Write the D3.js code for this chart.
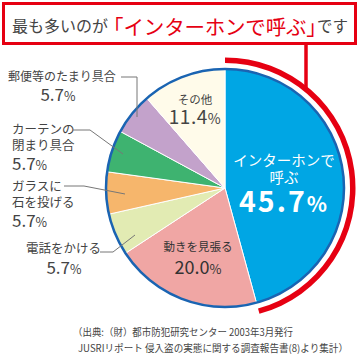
<!DOCTYPE html>
<html>
<head>
<meta charset="utf-8">
<script src="https://cdn.jsdelivr.net/npm/d3@7"></script>
<style>
  body { margin: 0; background: #fff; }
  svg { display: block; font-family: "Noto Sans CJK JP", "Noto Sans", sans-serif; }
  .half { font-feature-settings: "halt"; }
</style>
</head>
<body>
<div id="chart"></div>
<script>
// Data
const categories = ["インターホンで呼ぶ", "動きを見張る", "電話をかける", "ガラスに石を投げる", "カーテンの閉まり具合", "郵便等のたまり具合", "その他"];
const values = [45.7, 20.0, 5.7, 5.7, 5.7, 5.7, 11.4];
const colors = ["#00a6e4", "#f0a6a4", "#e2ebb3", "#f6b66c", "#3eb370", "#c3a2cb", "#fffbea"];

const width = 360, height = 354;
const cx = 225, cy = 188, r = 119;

const svg = d3.select("#chart")
    .append("svg")
    .attr("width", width)
    .attr("height", height);

// Title box
svg.append("rect")
    .attr("x", 3.5).attr("y", 3.5)
    .attr("width", 352).attr("height", 40)
    .attr("fill", "#fff")
    .attr("stroke", "#e60012")
    .attr("stroke-width", 3);

svg.append("text").attr("x", 12).attr("y", 32.3).attr("fill", "#444")
    .attr("font-size", 16).text("最も多いのが");

// red part with half-width brackets, then "です"
const red = svg.append("text").attr("x", 113.3).attr("y", 34.5).attr("fill", "#e60012")
    .attr("font-size", 20.5);
red.append("tspan").attr("class", "half").text("「");
red.append("tspan").attr("letter-spacing", -0.2).text(categories[0]);
red.append("tspan").attr("class", "half").text("」");
red.append("tspan").attr("dy", -2.2).attr("dx", 0.5).attr("fill", "#444").attr("font-size", 15.5).text("です");

const g = svg.append("g")
    .attr("transform", "translate(" + cx + "," + cy + ")");

const pie = d3.pie().sort(null).value(d => d);
const arcs = pie(values);
const arc = d3.arc().innerRadius(0).outerRadius(r);

// red highlight arc around the top slice
const redArc = d3.arc()
    .innerRadius(r + 6)
    .outerRadius(r + 11.5)
    .startAngle(0)
    .endAngle(arcs[0].endAngle);

g.append("path")
    .attr("d", redArc())
    .attr("fill", "#e60012");

// connector from title box down to the arc
const lineX = 306;
const arcY = -Math.sqrt((r + 9) * (r + 9) - (lineX - cx) * (lineX - cx));
svg.append("line")
    .attr("x1", lineX).attr("x2", lineX)
    .attr("y1", 44).attr("y2", cy + arcY)
    .attr("stroke", "#e60012")
    .attr("stroke-width", 3.5);

// slices
g.selectAll(".slice")
    .data(arcs)
    .join("path")
    .attr("class", "slice")
    .attr("d", arc)
    .attr("fill", (d, i) => colors[i])
    .attr("stroke", "#fff")
    .attr("stroke-width", 1);

g.append("circle")
    .attr("r", r)
    .attr("fill", "none")
    .attr("stroke", "#1a64b2")
    .attr("stroke-width", 2.5);

// helper for "5.7%" style numbers
function pct(sel, v, big, small) {
    sel.append("tspan").attr("font-size", big).text(v.toFixed(1));
    sel.append("tspan").attr("font-size", small).text("%");
}

// labels inside the pie
const inside = svg.append("g");

inside.append("text").attr("x", 284).attr("y", 166).attr("text-anchor", "middle")
    .attr("fill", "#fff").attr("font-size", 14.5).text("インターホンで");
inside.append("text").attr("x", 284).attr("y", 183).attr("text-anchor", "middle")
    .attr("fill", "#fff").attr("font-size", 14.5).text("呼ぶ");
let t = inside.append("text").attr("x", 284).attr("y", 212).attr("text-anchor", "middle")
    .attr("fill", "#fff").attr("font-weight", "bold").attr("letter-spacing", 2);
pct(t, values[0], 28.5, 21);

inside.append("text").attr("x", 195).attr("y", 104).attr("text-anchor", "middle")
    .attr("fill", "#444").attr("font-size", 11.5).text("その他");
t = inside.append("text").attr("x", 195).attr("y", 124).attr("text-anchor", "middle").attr("fill", "#444").attr("letter-spacing", 0.5);
pct(t, values[6], 19, 14);

inside.append("text").attr("x", 198).attr("y", 251).attr("text-anchor", "middle")
    .attr("fill", "#333").attr("font-size", 11.5).text("動きを見張る");
t = inside.append("text").attr("x", 198).attr("y", 274).attr("text-anchor", "middle").attr("fill", "#333");
pct(t, values[1], 18, 13);

// outside labels with leader lines
const outside = svg.append("g").attr("fill", "#444");
const lead = svg.append("g").attr("fill", "none").attr("stroke", "#777").attr("stroke-width", 1);

// 郵便等のたまり具合
outside.append("text").attr("x", 8).attr("y", 81).attr("font-size", 12).text("郵便等のたまり具合");
t = outside.append("text").attr("x", 58).attr("y", 101).attr("text-anchor", "middle");
pct(t, values[5], 17, 12.5);
lead.append("polyline").attr("points", "121,77 137,77 137,117");

// カーテンの閉まり具合
outside.append("text").attr("x", 12).attr("y", 134).attr("font-size", 12.5).text("カーテンの");
outside.append("text").attr("x", 12).attr("y", 150).attr("font-size", 12.5).text("閉まり具合");
t = outside.append("text").attr("x", 12).attr("y", 170);
pct(t, values[4], 17, 12.5);
lead.append("polyline").attr("points", "73,130 90,130 123,154");

// ガラスに石を投げる
outside.append("text").attr("x", 12).attr("y", 191).attr("font-size", 12.5).text("ガラスに");
outside.append("text").attr("x", 12).attr("y", 207).attr("font-size", 12.5).text("石を投げる");
t = outside.append("text").attr("x", 12).attr("y", 227);
pct(t, values[3], 17, 12.5);
lead.append("polyline").attr("points", "64,186 84,186 125,194");

// 電話をかける
outside.append("text").attr("x", 26).attr("y", 253).attr("font-size", 12.5).text("電話をかける");
t = outside.append("text").attr("x", 64).attr("y", 274).attr("text-anchor", "middle");
pct(t, values[2], 17, 12.5);
lead.append("polyline").attr("points", "100,252 113,252 135,235");

// source
svg.append("text").attr("x", 73).attr("y", 336).attr("fill", "#444").attr("font-size", 10)
    .attr("textLength", 220).attr("lengthAdjust", "spacingAndGlyphs")
    .text("（出典:（財）都市防犯研究センター 2003年3月発行");
svg.append("text").attr("x", 78).attr("y", 352).attr("fill", "#444").attr("font-size", 10)
    .attr("textLength", 270).attr("lengthAdjust", "spacingAndGlyphs")
    .text("JUSRIリポート 侵入盗の実態に関する調査報告書(8)より集計）");
</script>
</body>
</html>
